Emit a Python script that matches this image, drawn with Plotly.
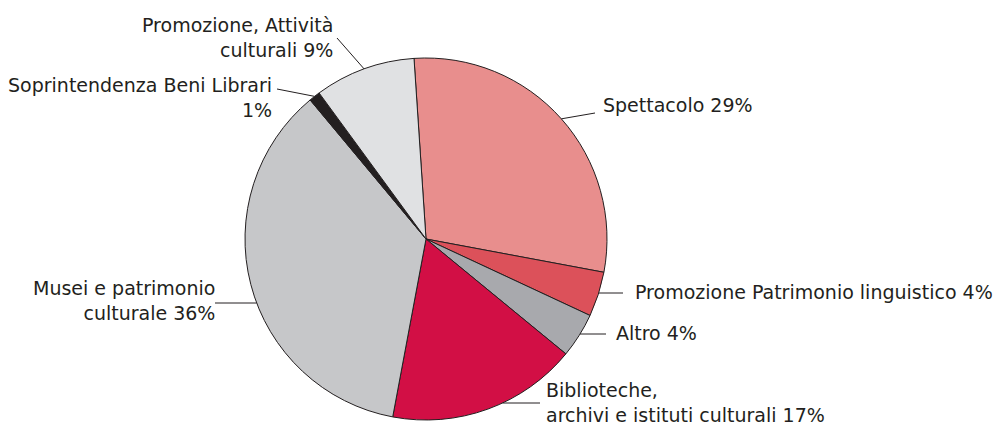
import math
import plotly.graph_objects as go

# data, clockwise from the top
labels = [
    "Spettacolo",
    "Promozione Patrimonio linguistico",
    "Altro",
    "Biblioteche, archivi e istituti culturali",
    "Musei e patrimonio culturale",
    "Soprintendenza Beni Librari",
    "Promozione, Attività culturali",
]
values = [29, 4, 4, 17, 36, 1, 9]
colors = ["#E88E8D", "#DC515A", "#A8A9AD", "#D20F45", "#C6C7C9", "#231F20", "#E0E1E3"]

# label text as printed (line breaks as in the picture)
label_text = [
    "Spettacolo 29%",
    "Promozione Patrimonio linguistico 4%",
    "Altro 4%",
    "Biblioteche,<br>archivi e istituti culturali 17%",
    "Musei e patrimonio<br>culturale 36%",
    "Soprintendenza Beni Librari<br>1%",
    "Promozione, Attività<br>culturali 9%",
]

W, H = 997, 427
CX, CY, R = 426, 239, 181          # pie centre / radius in pixels
ROTATION = -3.8                     # start angle of first slice (deg, clockwise from 12 o'clock)
INK = "#231F20"
FONT = "DejaVu Sans"
FSIZE = 19

# label placement: (text x, text y, anchor, leader end x, leader end y, horizontal leader?)
placement = [
    (602, 105, "left", 595, 113, False),
    (634, 292, "left", 623, 293, True),
    (615, 333, "left", 606, 334, True),
    (545, 402, "left", 540, 403, True),
    (216, 300, "right", 215, 303, True),
    (273, 97, "right", 277, 89, False),
    (334, 38, "right", 337, 38, False),
]


def px(x):
    return x / W


def py(y):
    return 1 - y / H


fig = go.Figure(go.Pie(
    labels=labels,
    values=values,
    sort=False,
    direction="clockwise",
    rotation=ROTATION,
    marker=dict(colors=colors, line=dict(color=INK, width=1)),
    textinfo="none",
    hoverinfo="label+percent",
    showlegend=False,
    domain=dict(x=[px(CX - R), px(CX + R)], y=[py(CY + R), py(CY - R)]),
))

total = sum(values)
cum = 0
shapes = []
annotations = []
for v, txt, (tx, ty, anchor, ex, ey, horiz) in zip(values, label_text, placement):
    mid = math.radians(ROTATION + (cum + v / 2) / total * 360)
    cum += v
    if horiz:
        dy = ey - CY
        dx = math.sqrt(max(R * R - dy * dy, 0))
        sx = CX + (dx if anchor == "left" else -dx)
        sy = ey
    else:
        sx = CX + R * math.sin(mid)
        sy = CY - R * math.cos(mid)
    shapes.append(dict(type="line", xref="paper", yref="paper",
                       x0=px(sx), y0=py(sy), x1=px(ex), y1=py(ey),
                       line=dict(color=INK, width=1)))
    annotations.append(dict(text=txt, xref="paper", yref="paper",
                            x=px(tx), y=py(ty), xanchor=anchor, yanchor="middle",
                            align=anchor, showarrow=False, borderpad=0,
                            font=dict(family=FONT, size=FSIZE, color=INK)))

fig.update_layout(
    width=W, height=H,
    margin=dict(l=0, r=0, t=0, b=0),
    paper_bgcolor="white",
    plot_bgcolor="white",
    shapes=shapes,
    annotations=annotations,
)

# drop the default page margin so the figure sits at the window's corner
fig.write_html("out.html", config={"displayModeBar": False},
               post_script="document.body.style.margin='0';")
